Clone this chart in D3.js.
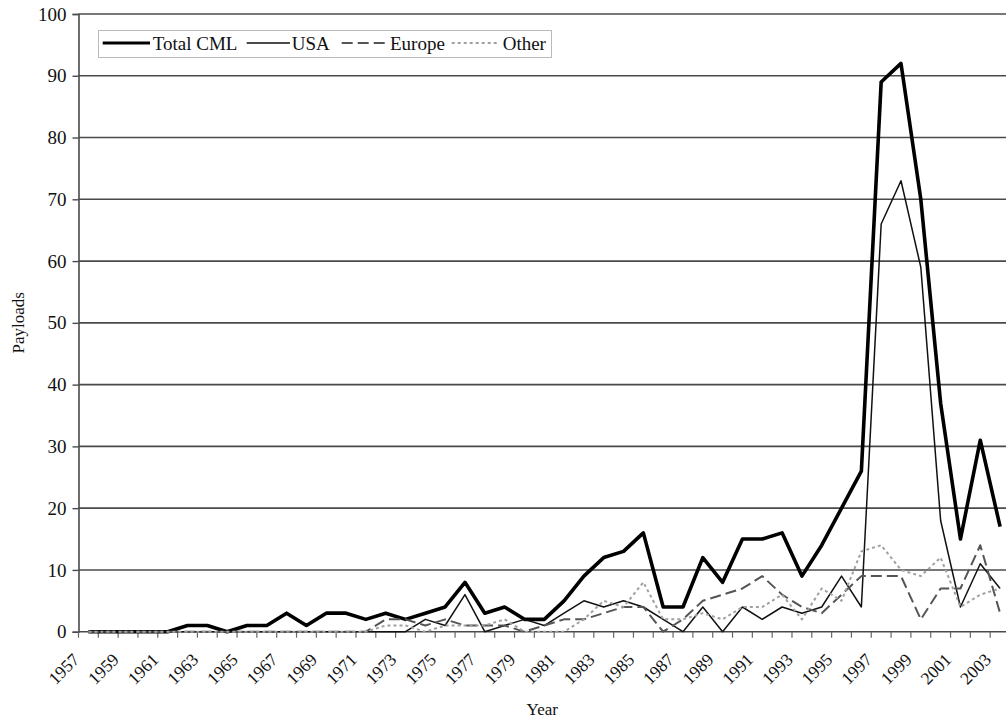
<!DOCTYPE html>
<html>
<head>
<meta charset="utf-8">
<script src="https://cdn.jsdelivr.net/npm/d3@7"></script>
<style>
html, body { margin: 0; padding: 0; background: #fff; }
svg { display: block; }
svg text { font-family: "Liberation Serif", "Times New Roman", serif; }
</style>
</head>
<body>
<svg id="chart" width="1006" height="725" font-family="Liberation Serif, serif"></svg>
<script>
// ---- data ----
const years = [1957,1958,1959,1960,1961,1962,1963,1964,1965,1966,1967,1968,1969,1970,1971,1972,1973,1974,1975,1976,1977,1978,1979,1980,1981,1982,1983,1984,1985,1986,1987,1988,1989,1990,1991,1992,1993,1994,1995,1996,1997,1998,1999,2000,2001,2002,2003];
const totalCML = [0,0,0,0,0,1,1,0,1,1,3,1,3,3,2,3,2,3,4,8,3,4,2,2,5,9,12,13,16,4,4,12,8,15,15,16,9,14,20,26,89,92,70,37,15,31,17];
const usa      = [0,0,0,0,0,0,0,0,0,0,0,0,0,0,0,0,0,2,1,6,0,1,2,1,3,5,4,5,4,2,0,4,0,4,2,4,3,4,9,4,66,73,59,18,4,11,7];
const europe   = [0,0,0,0,0,0,0,0,0,0,0,0,0,0,0,2,2,1,2,1,1,1,0,1,2,2,3,4,4,0,2,5,6,7,9,6,4,3,6,9,9,9,2,7,7,14,3];
const other    = [0,0,0,0,0,0,0,0,0,0,0,0,0,0,0,1,1,0,1,1,1,2,0,0,0,2,5,4,8,2,2,3,2,4,4,6,2,7,5,13,14,10,9,12,4,6,7];
const yTicks = [0,10,20,30,40,50,60,70,80,90,100];
const xTickLabels = [1957,1959,1961,1963,1965,1967,1969,1971,1973,1975,1977,1979,1981,1983,1985,1987,1989,1991,1993,1995,1997,1999,2001,2003];
const seriesNames = ["Total CML","USA","Europe","Other"];

(function () {
const FONT = "Liberation Serif, Times New Roman, serif";
// ---- layout ----
const pLeft = 78.5, pRight = 1010, pTop = 14, pBottom = 631.7;
const svg = d3.select("#chart");

const x = d3.scaleBand().domain(years).range([pLeft, pRight]).padding(0);
const y = d3.scaleLinear().domain([0, 100]).range([pBottom, pTop]);
const cx = d => x(d) + x.bandwidth() / 2;

// gridlines
svg.append("g").selectAll("line").data(yTicks).join("line")
  .attr("x1", pLeft).attr("x2", pRight)
  .attr("y1", d => y(d)).attr("y2", d => y(d))
  .attr("stroke", "#4a4a4a").attr("stroke-width", 1.6);

// y axis
const yAxis = svg.append("g").attr("transform", `translate(${pLeft},0)`)
  .call(d3.axisLeft(y).tickValues(yTicks).tickSize(6).tickPadding(6).tickFormat(d3.format("d")));
yAxis.attr("font-family", FONT);
yAxis.select(".domain").attr("stroke", "#4a4a4a").attr("stroke-width", 1.6);
yAxis.selectAll(".tick line").attr("stroke", "#4a4a4a").attr("stroke-width", 1.4);
yAxis.selectAll("text").attr("font-size", 19).attr("fill", "#111").attr("font-family", FONT);

// x axis tick marks at category boundaries
const boundaries = years.map(d => x(d));
svg.append("g").selectAll("line").data(boundaries).join("line")
  .attr("x1", d => d).attr("x2", d => d)
  .attr("y1", pBottom).attr("y2", pBottom + 6)
  .attr("stroke", "#666").attr("stroke-width", 1.2);

// x tick labels (rotated)
svg.append("g").selectAll("text").data(xTickLabels).join("text")
  .attr("transform", d => `translate(${cx(d) - 8},${pBottom + 29}) rotate(-45)`)
  .attr("text-anchor", "end")
  .attr("font-family", FONT)
  .attr("font-size", 17.5).attr("fill", "#111")
  .text(d => d);

// axis titles
svg.append("text").attr("x", (pLeft + pRight) / 2 - 2).attr("y", 715)
  .attr("text-anchor", "middle").attr("font-family", FONT).attr("font-size", 17).attr("fill", "#111").text("Year");
svg.append("text").attr("transform", `translate(24,${(pTop + pBottom) / 2}) rotate(-90)`)
  .attr("text-anchor", "middle").attr("font-family", FONT).attr("font-size", 17).attr("fill", "#111").text("Payloads");

// series
const styles = [
  { data: totalCML, stroke: "#000", width: 3.6, dash: null },
  { data: usa,      stroke: "#111", width: 1.5, dash: null },
  { data: europe,   stroke: "#555", width: 2,   dash: "11,5" },
  { data: other,    stroke: "#a0a0a0", width: 2, dash: "3,3" }
];
const line = d3.line().x((d, i) => cx(years[i])).y(d => y(d));
const plot = svg.append("g");
styles.forEach(s => {
  plot.append("path").datum(s.data)
    .attr("d", line)
    .attr("fill", "none")
    .attr("stroke", s.stroke)
    .attr("stroke-width", s.width)
    .attr("stroke-linejoin", "round")
    .attr("stroke-dasharray", s.dash);
});

// legend
const lg = svg.append("g");
lg.append("rect").attr("x", 98.5).attr("y", 30.5).attr("width", 453).attr("height", 27)
  .attr("fill", "#fff").attr("stroke", "#bbb").attr("stroke-width", 1);
const legendPos = [
  { x1: 102.7, x2: 150, tx: 152.7 },
  { x1: 246.7, x2: 290, tx: 291.7 },
  { x1: 341.7, x2: 388.3, tx: 390 },
  { x1: 451.7, x2: 498.3, tx: 502.7 }
];
seriesNames.forEach((name, i) => {
  const p = legendPos[i], s = styles[i];
  lg.append("line").attr("x1", p.x1).attr("x2", p.x2).attr("y1", 43).attr("y2", 43)
    .attr("stroke", s.stroke).attr("stroke-width", Math.min(s.width, 3))
    .attr("stroke-dasharray", s.dash);
  lg.append("text").attr("x", p.tx).attr("y", 49.5).attr("font-family", FONT)
    .attr("font-size", 19).attr("fill", "#111").text(name);
});
})();
</script>
</body>
</html>
